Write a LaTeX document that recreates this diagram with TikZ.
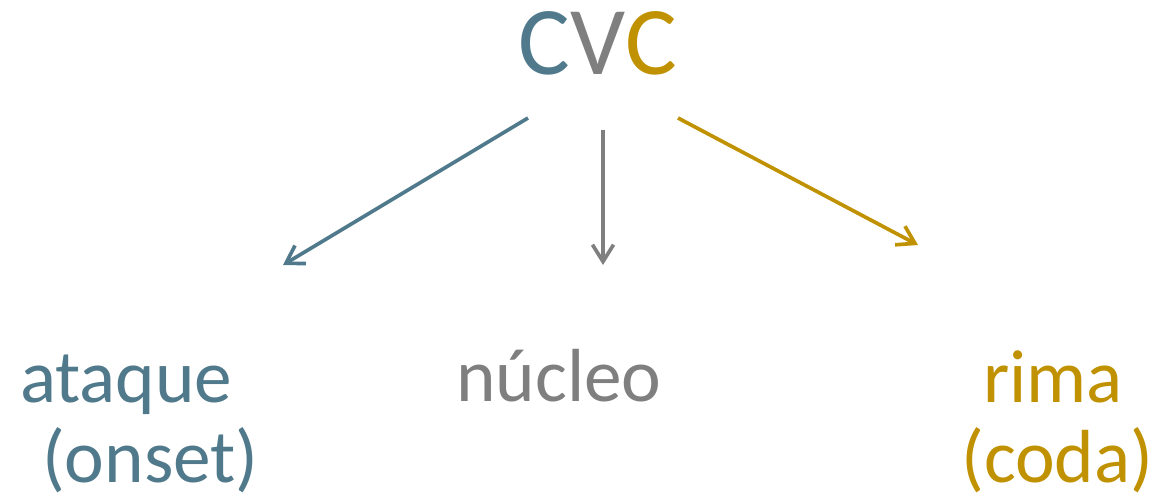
\documentclass[tikz,border=0pt]{standalone}
\usepackage{fontspec}
\setmainfont{Carlito}
\usetikzlibrary{arrows.meta}
\definecolor{onsetblue}{RGB}{80,122,140}
\definecolor{nucgray}{RGB}{127,127,127}
\definecolor{codagold}{RGB}{192,145,0}
\tikzstyle{sylpart} = [font=\fontsize{53.5}{57.6}\selectfont, align=left, inner sep=0pt, anchor=base west]
\tikzstyle{arrow} = [line width=2.6pt, -{Straight Barb[length=12pt,width=15pt]}]

\begin{document}
\begin{tikzpicture}[x=0.025cm, y=-0.025cm]
\useasboundingbox (0,0) rectangle (1160,497);
\node (cvc) [anchor=base, inner sep=0pt, font=\fontsize{69}{75}\selectfont] at (598,75) {\textcolor{onsetblue}{C}\textcolor{nucgray}{V}\textcolor{codagold}{C}};
\node (onset) [sylpart, text=onsetblue] at (20,483) {ataque\\\hspace*{0.29em}(onset)};
\node (nucleus) [sylpart, text=nucgray] at (456,402) {núcleo};
\node (coda) [sylpart, text=codagold] at (961,483) {\hspace*{0.29em}rima\\(coda)};

\coordinate (onsetfrom) at (528,118);
\coordinate (onsetto) at (283,265);
\coordinate (nucfrom) at (603,130);
\coordinate (nucto) at (603,265);
\coordinate (codafrom) at (678,118);
\coordinate (codato) at (918,245);

\draw [arrow, onsetblue] (onsetfrom) -- (onsetto);
\draw [arrow, nucgray] (nucfrom) -- (nucto);
\draw [arrow, codagold] (codafrom) -- (codato);
\end{tikzpicture}
\end{document}
